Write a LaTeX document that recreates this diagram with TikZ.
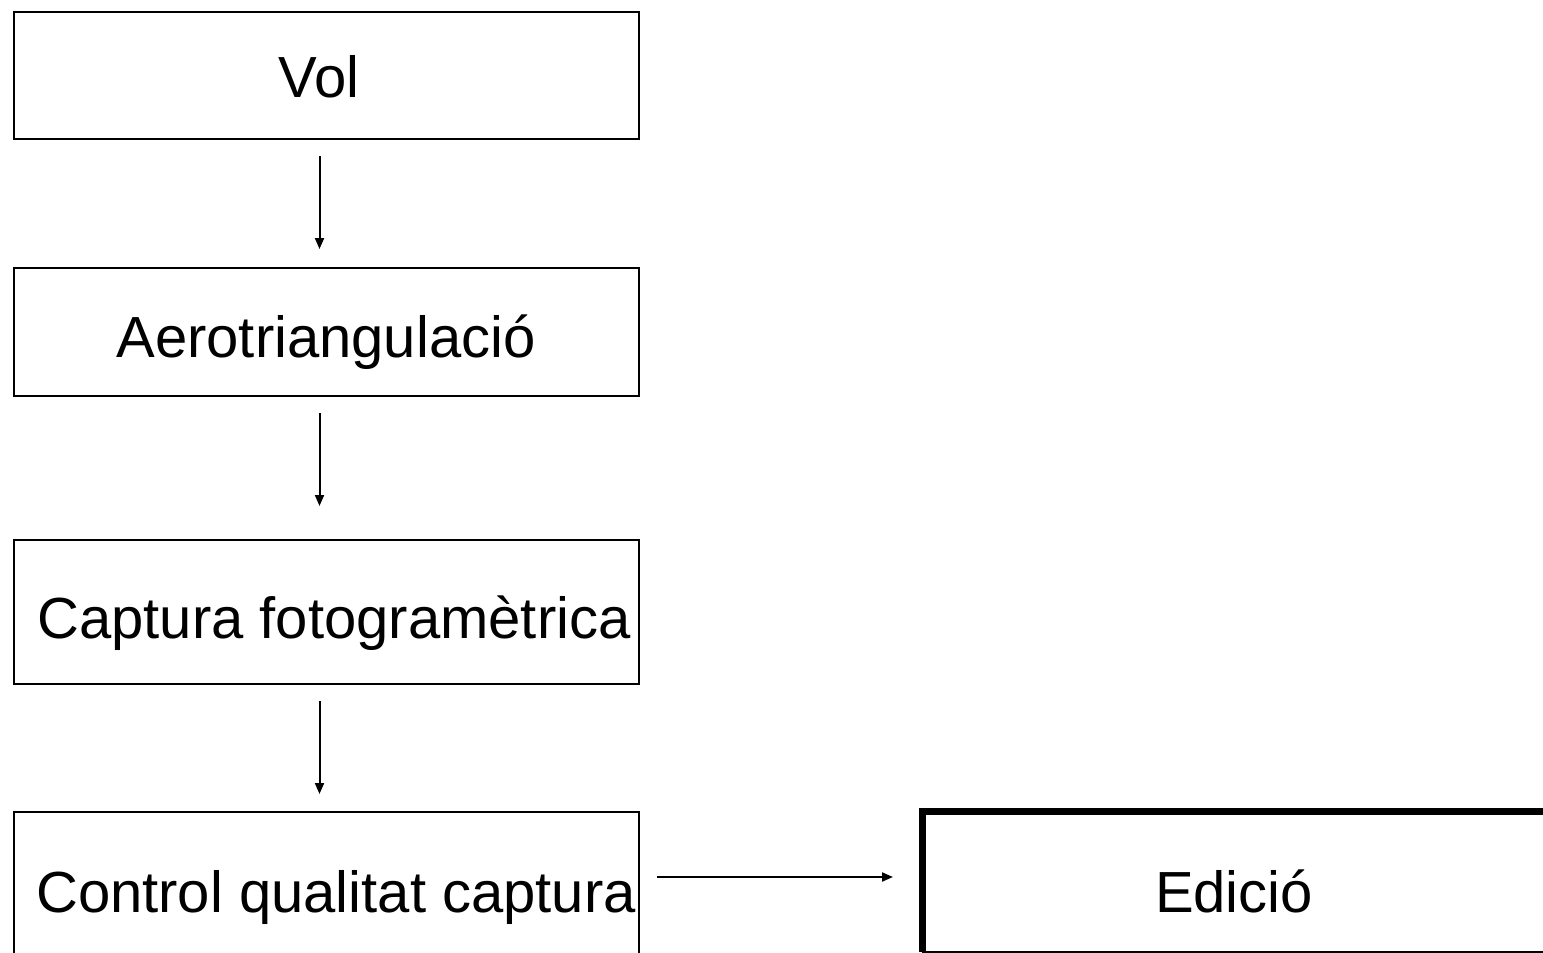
\documentclass[tikz,border=0pt]{standalone}
\usepackage{fontspec}
\setmainfont{Liberation Sans}
\usetikzlibrary{arrows.meta}
\begin{document}
\begin{tikzpicture}[x=1pt,y=-1pt,
  stepbox/.style={draw, line width=2pt, rectangle, inner sep=0pt, minimum width=625pt},
  steptext/.style={anchor=base, inner sep=0pt, font=\fontsize{58}{70}\selectfont},
  arr/.style={line width=2pt, -{Triangle[length=11pt,width=9pt]}}]
  \useasboundingbox (0,0) rectangle (1543,953);
  \clip (0,0) rectangle (1543,953);
  \fill[white] (0,0) rectangle (1543,953);

  % process boxes on the left
  \node[stepbox, minimum height=127pt] (vol) at (326.5,75.5) {};
  \node[stepbox, minimum height=128pt] (aero) at (326.5,332) {};
  \node[stepbox, minimum height=144pt] (capt) at (326.5,612) {};
  \node[stepbox, minimum height=166pt] (ctrl) at (326.5,895) {};

  % box labels
  \node[steptext] (voltext) at (319,97) {Vol};
  \node[steptext] (aerotext) at (326,357) {Aerotriangulació};
  \node[steptext] (capttext) at (334,638) {Captura fotogramètrica};
  \node[steptext] (ctrltext) at (336,912) {Control qualitat captura};

  % emphasised box with heavy top and left borders
  \node[draw, line width=2pt, rectangle, minimum width=621pt, minimum height=140pt] (edic) at (1233.5,882) {};
  \draw[line width=7pt] ([yshift=1pt]edic.south west) -- (edic.north west) -- (edic.north east);
  \node[steptext] (edictext) at (1234,912) {Edició};

  % connectors
  \draw[arr, shorten <=16pt, shorten >=18pt] ([xshift=-7pt]vol.south) -- ([xshift=-7pt]aero.north);
  \draw[arr, shorten <=16pt, shorten >=33pt] ([xshift=-7pt]aero.south) -- ([xshift=-7pt]capt.north);
  \draw[arr, shorten <=16pt, shorten >=17pt] ([xshift=-7pt]capt.south) -- ([xshift=-7pt]ctrl.north);
  \draw[arr, shorten <=17pt, shorten >=29pt] (ctrl.east |- 0,877) -- (edic.west |- 0,877);
\end{tikzpicture}
\end{document}
